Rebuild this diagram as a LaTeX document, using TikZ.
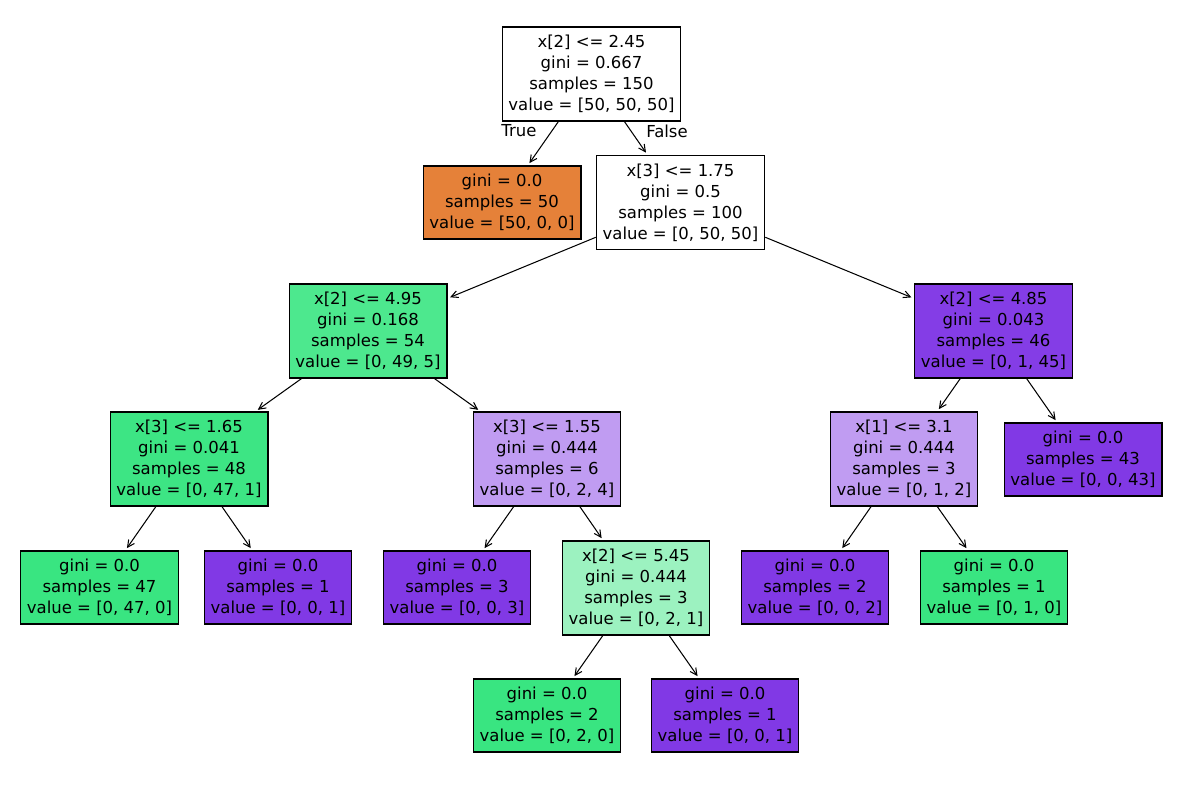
\documentclass[tikz,border=0pt]{standalone}
\usepackage{fontspec}
\setmainfont{DejaVu Sans}
\usetikzlibrary{arrows.meta}
\definecolor{setosa}{HTML}{E58139}
\definecolor{versicolor}{HTML}{39E581}
\definecolor{virginica}{HTML}{8139E5}
\definecolor{versicolorA}{HTML}{4DE88E}
\definecolor{versicolorB}{HTML}{3DE584}
\definecolor{versicolorC}{HTML}{9CF2C0}
\definecolor{virginicaA}{HTML}{843DE6}
\definecolor{virginicaB}{HTML}{C09CF2}

\begin{document}
\begin{tikzpicture}[x=0.72pt,y=-0.72pt,>={Straight Barb[length=5pt,width=5pt]},
		box/.style={draw,line width=0.8pt,align=center,inner xsep=4.6pt,font=\fontsize{11.87}{15.2}\selectfont},
		split/.style={box,minimum height=67.7pt},
		leaf/.style={box,minimum height=52.6pt},
		edge/.style={->,line width=0.75pt,shorten >=2pt},
		lab/.style={inner sep=0pt,font=\fontsize{11.87}{15.2}\selectfont}]

		\useasboundingbox (0,0) rectangle (1182,790);

		%the root and its first split
		\node[split,fill=white] (t) at (591.5,74) {x[2] <= 2.45\\gini = 0.667\\samples = 150\\value = [50, 50, 50]};
		\node[leaf,fill=setosa] (tl) at (502,202.5) {gini = 0.0\\samples = 50\\value = [50, 0, 0]};
		\node[split,fill=white] (tr) at (680.5,202.5) {x[3] <= 1.75\\gini = 0.5\\samples = 100\\value = [0, 50, 50]};
		\draw[edge] (t) -- (tl);
		\draw[edge] (t) -- (tr);
		\node[lab] (truelab) at (519,131) {True};
		\node[lab] (falselab) at (667,131) {False};

		%second level
		\node[split,fill=versicolorA] (trl) at (368,331) {x[2] <= 4.95\\gini = 0.168\\samples = 54\\value = [0, 49, 5]};
		\node[split,fill=virginicaA] (trr) at (993.5,331) {x[2] <= 4.85\\gini = 0.043\\samples = 46\\value = [0, 1, 45]};
		\draw[edge] (tr) -- (trl);
		\draw[edge] (tr) -- (trr);

		%third level
		\node[split,fill=versicolorB] (trll) at (189,459) {x[3] <= 1.65\\gini = 0.041\\samples = 48\\value = [0, 47, 1]};
		\node[split,fill=virginicaB] (trlr) at (547,459) {x[3] <= 1.55\\gini = 0.444\\samples = 6\\value = [0, 2, 4]};
		\node[split,fill=virginicaB] (trrl) at (904,459) {x[1] <= 3.1\\gini = 0.444\\samples = 3\\value = [0, 1, 2]};
		\node[leaf,fill=virginica] (trrr) at (1083,459.5) {gini = 0.0\\samples = 43\\value = [0, 0, 43]};
		\draw[edge] (trl) -- (trll);
		\draw[edge] (trl) -- (trlr);
		\draw[edge] (trr) -- (trrl);
		\draw[edge] (trr) -- (trrr);

		%fourth level
		\node[leaf,fill=versicolor] (trlll) at (99.5,587.5) {gini = 0.0\\samples = 47\\value = [0, 47, 0]};
		\node[leaf,fill=virginica] (trllr) at (278,587.5) {gini = 0.0\\samples = 1\\value = [0, 0, 1]};
		\node[leaf,fill=virginica] (trlrl) at (457,587.5) {gini = 0.0\\samples = 3\\value = [0, 0, 3]};
		\node[split,fill=versicolorC] (trlrr) at (636,588) {x[2] <= 5.45\\gini = 0.444\\samples = 3\\value = [0, 2, 1]};
		\node[leaf,fill=virginica] (trrll) at (815,587.5) {gini = 0.0\\samples = 2\\value = [0, 0, 2]};
		\node[leaf,fill=versicolor] (trrlr) at (994,587.5) {gini = 0.0\\samples = 1\\value = [0, 1, 0]};
		\draw[edge] (trll) -- (trlll);
		\draw[edge] (trll) -- (trllr);
		\draw[edge] (trlr) -- (trlrl);
		\draw[edge] (trlr) -- (trlrr);
		\draw[edge] (trrl) -- (trrll);
		\draw[edge] (trrl) -- (trrlr);

		%last level
		\node[leaf,fill=versicolor] (trlrrl) at (547,715.5) {gini = 0.0\\samples = 2\\value = [0, 2, 0]};
		\node[leaf,fill=virginica] (trlrrr) at (725,715.5) {gini = 0.0\\samples = 1\\value = [0, 0, 1]};
		\draw[edge] (trlrr) -- (trlrrl);
		\draw[edge] (trlrr) -- (trlrrr);

	\end{tikzpicture}
\end{document}
